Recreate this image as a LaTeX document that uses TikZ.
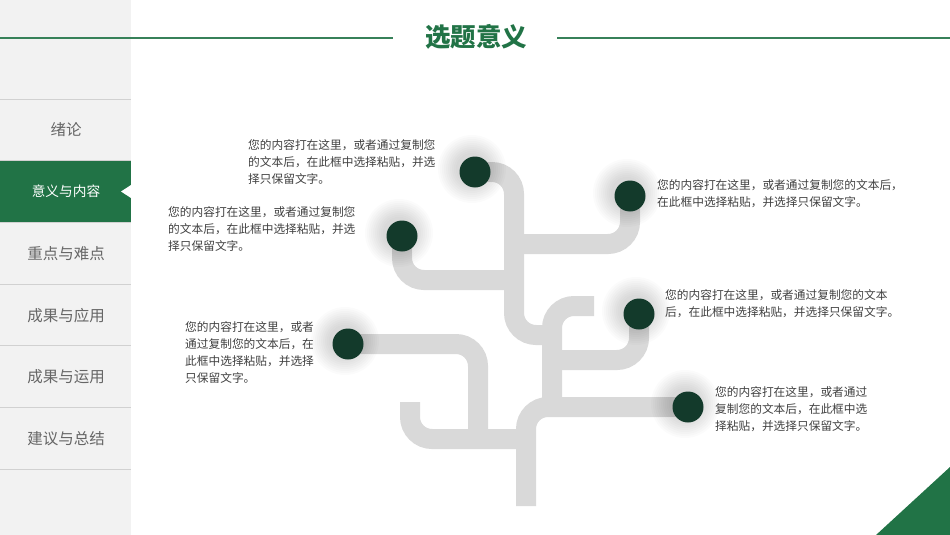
\documentclass[tikz,border=0pt]{standalone}
\usepackage{fontspec}
\setmainfont{Noto Sans CJK SC}
\definecolor{themegreen}{HTML}{217346}
\definecolor{dotgreen}{HTML}{133A2B}
\definecolor{pipegray}{HTML}{D9D9D9}
\definecolor{sidegray}{HTML}{F2F2F2}
\definecolor{txtgray}{HTML}{404040}
\definecolor{menugray}{HTML}{666666}
\pgfdeclarelayer{bg}
\pgfdeclarelayer{glow}
\pgfsetlayers{bg,glow,main}
\tikzset{
  pipe/.style={draw=pipegray, line width=20pt, rounded corners=22pt},
  dot/.style={circle, fill=dotgreen, minimum size=31pt, inner sep=0pt},
  desc/.style={anchor=north west, align=left, inner sep=0pt, text=txtgray,
    font=\fontsize{11.7}{17.2}\selectfont},
  menu/.style={text=menugray, font=\fontsize{15.5}{18}\selectfont},
  titleline/.style={draw=themegreen!90!white, line width=2pt}
}
\begin{document}
\begin{tikzpicture}[x=1pt,y=-1pt]
  \useasboundingbox (0,0) rectangle (950,535);

  % 左侧目录栏
  \fill[sidegray] (0,0) rectangle (131,535);
  \foreach \i in {0,...,6}
    \draw[black!18, line width=1pt] (0,99+61.7*\i) -- (131,99+61.7*\i);
  \fill[themegreen] (0,160.7) rectangle (131,222.4);
  \fill[white] (121,191.5) -- (131,185) -- (131,198) -- cycle;
  \foreach \i/\t in {0/绪论, 2/重点与难点, 3/成果与应用, 4/成果与运用, 5/建议与总结}
    \node[menu] (menu-\i) at (66,130+61.7*\i) {\t};
  \node[menu, text=white, font=\fontsize{13.7}{16}\selectfont] (menu-1) at (66,191.5) {意义与内容};

  % 标题
  \node[font=\bfseries\fontsize{25.5}{28}\selectfont, text=themegreen] (title) at (476,37) {选题意义};
  \draw[titleline] (0,38) -- (393,38);
  \draw[titleline] (557,38) -- (950,38);

  % 圆点
  \node[dot] (n1) at (475,172) {};
  \node[dot] (n2) at (630,196) {};
  \node[dot] (n3) at (402,236) {};
  \node[dot] (n4) at (639,314) {};
  \node[dot] (n5) at (688,407) {};
  \node[dot] (n6) at (348,344) {};

  % 柔和阴影
  \begin{pgfonlayer}{glow}
    \foreach \n in {n1,n2,n3,n4,n5,n6}
      \foreach \r in {34,32,...,16}
        \fill[black, opacity=.016] ([shift={(-3,-3)}]\n.center) circle (\r);
  \end{pgfonlayer}

  % 树形管道
  \begin{pgfonlayer}{bg}
    \draw[pipe] (n1.center) -- (514,172) -- (514,335) -- (552,335);
    \draw[pipe] (514,244) -- (630,244) -- (n2.center);
    \draw[pipe] (n3.center) -- (402,280) -- (514,280);
    \draw[pipe] (594,306) -- (552,306) -- (552,407);
    \draw[pipe] (n4.center) -- (639,360) -- (552,360);
    \draw[pipe] (526,506) -- (526,407) -- (n5.center);
    \draw[pipe] (n6.center) -- (478,344) -- (478,439);
    \draw[pipe] (410,402) -- (410,439) -- (526,439);
  \end{pgfonlayer}

  % 说明文字
  \node[desc] (t1) at (248,139) {您的内容打在这里，或者通过复制您\\的文本后，在此框中选择粘贴，并选\\择只保留文字。};
  \node[desc] (t2) at (168,206) {您的内容打在这里，或者通过复制您\\的文本后，在此框中选择粘贴，并选\\择只保留文字。};
  \node[desc] (t3) at (657,179) {您的内容打在这里，或者通过复制您的文本后，\\在此框中选择粘贴，并选择只保留文字。};
  \node[desc] (t4) at (665,289) {您的内容打在这里，或者通过复制您的文本\\后，在此框中选择粘贴，并选择只保留文字。};
  \node[desc] (t5) at (185,321) {您的内容打在这里，或者\\通过复制您的文本后，在\\此框中选择粘贴，并选择\\只保留文字。};
  \node[desc] (t6) at (715,386) {您的内容打在这里，或者通过\\复制您的文本后，在此框中选\\择粘贴，并选择只保留文字。};

  % 右下角三角
  \fill[themegreen] (876,535) -- (950,467) -- (950,535) -- cycle;
\end{tikzpicture}
\end{document}
